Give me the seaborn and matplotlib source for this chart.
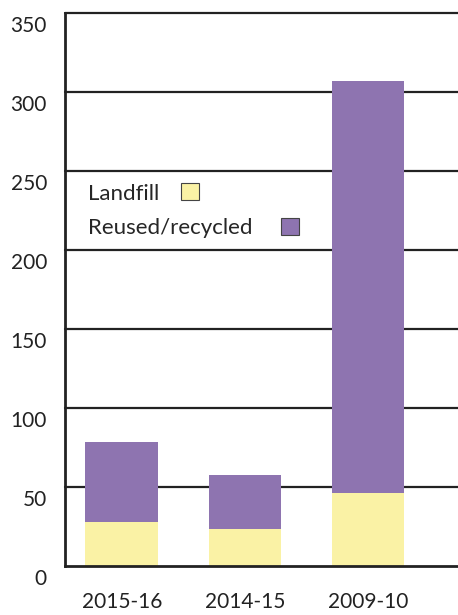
import matplotlib
matplotlib.use("Agg")
import matplotlib.pyplot as plt
import matplotlib.transforms as mtransforms
import seaborn as sns
import pandas as pd
from matplotlib.patches import Patch

# values
years = ["2015-16", "2014-15", "2009-10"]
landfill = [28, 23.5, 46]
recycled = [50.5, 34, 261]
yticks = [0, 50, 100, 150, 200, 250, 300, 350]

purple = "#8e74b0"
yellow = "#faf2a5"

df = pd.DataFrame({"year": years, "landfill": landfill, "recycled": recycled})
df["total"] = df["landfill"] + df["recycled"]

sns.set_style("white")
plt.rcParams["font.family"] = ["Lato", "DejaVu Sans"]

fig = plt.figure(figsize=(4.58, 6.15), dpi=100)
ax = fig.add_axes([0.142, 0.0797, 0.858, 0.899])

# stacked: full total in purple, landfill drawn over it in yellow
sns.barplot(data=df, x="year", y="total", color=purple, saturation=1, width=0.59,
            linewidth=0, ax=ax)
sns.barplot(data=df, x="year", y="landfill", color=yellow, saturation=1, width=0.59,
            linewidth=0, ax=ax)

ax.set_xlim(-0.46, 2.73)
ax.set_ylim(0, 350)
ax.set_yticks(yticks)
for y in yticks[1:]:
    ax.axhline(y, color="#222222", lw=1.6, zorder=0.5, clip_on=False)

ax.set_xlabel("")
ax.set_ylabel("")
for s in ["top", "right"]:
    ax.spines[s].set_visible(False)
for s in ["left", "bottom"]:
    ax.spines[s].set_color("#222222")
    ax.spines[s].set_linewidth(2)

ax.tick_params(axis="y", length=0, pad=13, labelsize=15, labelcolor="#222222")
ax.tick_params(axis="x", which="major", length=0, pad=19, labelsize=15, labelcolor="#222222")
ax.set_xticks([0.5, 1.5, 2.5], minor=True)
ax.tick_params(axis="x", which="minor", direction="in", length=12, width=1.6, color="#222222")

# y labels sit a little below their lines in the original
shift = mtransforms.ScaledTranslation(0, -8 / 72, fig.dpi_scale_trans)
for lab in ax.get_yticklabels():
    lab.set_transform(lab.get_transform() + shift)

leg_kw = dict(loc="upper left", markerfirst=False, frameon=False, fontsize=16,
              handlelength=0.8, handleheight=0.8, borderpad=0)
leg1 = ax.legend(handles=[Patch(facecolor=yellow, edgecolor="#444444", lw=0.8, label="Landfill")],
                 bbox_to_anchor=(0.03, 0.712), handletextpad=1.0, **leg_kw)
ax.add_artist(leg1)
ax.legend(handles=[Patch(facecolor=purple, edgecolor="#444444", lw=0.8, label="Reused/recycled")],
          bbox_to_anchor=(0.03, 0.650), handletextpad=1.3, **leg_kw)

fig.savefig("out.png", dpi=100)
